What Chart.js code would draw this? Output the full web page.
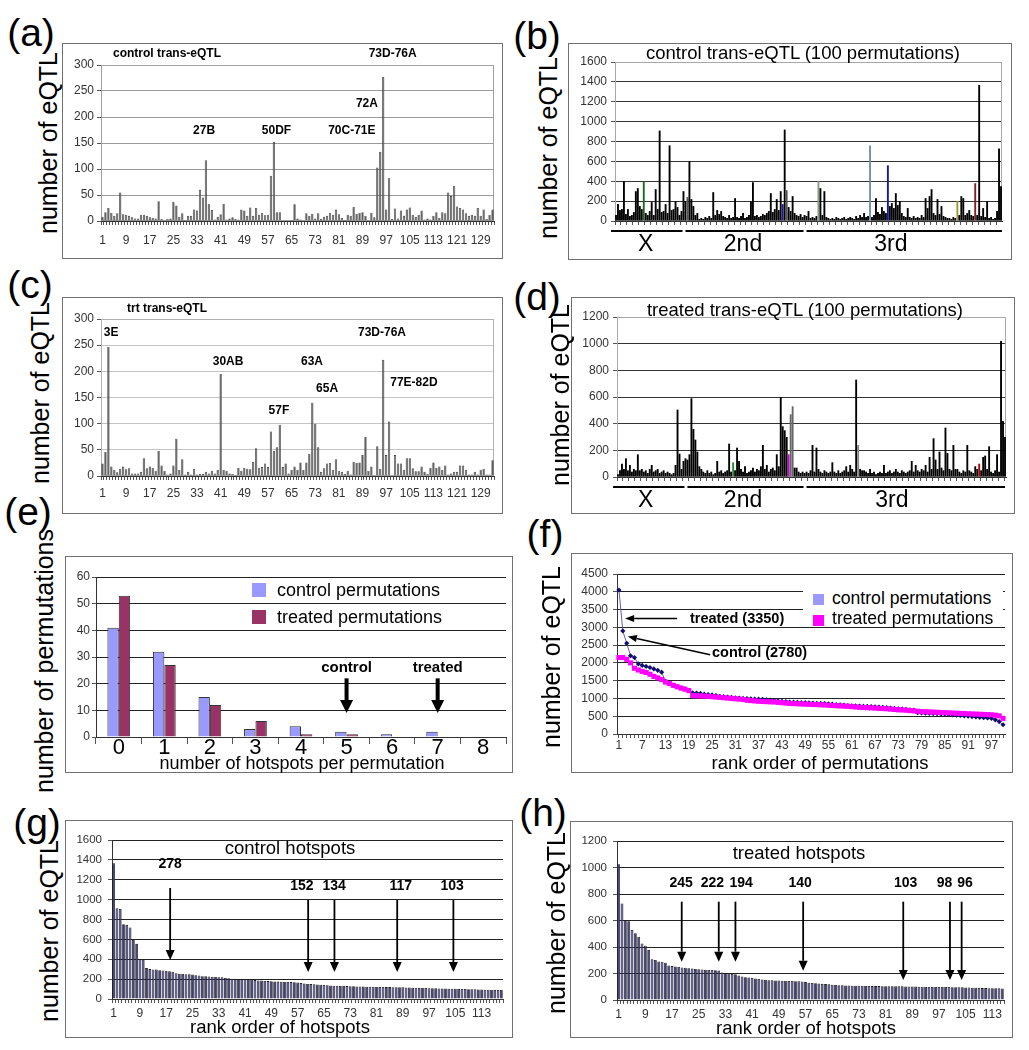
<!DOCTYPE html>
<html>
<head>
<meta charset="utf-8">
<script src="https://cdn.jsdelivr.net/npm/chart.js@4.4.1/dist/chart.umd.min.js"></script>
<style>
  body { margin: 0; background: #fff; }
  #page { position: relative; width: 1029px; height: 1050px; overflow: hidden; font-family: 'Liberation Sans', Arial, sans-serif; }
  .box { position: absolute; border: 1.5px solid #707070; box-sizing: border-box; }
  canvas { position: absolute; }
  .t { position: absolute; white-space: nowrap; transform: translate(-50%, -50%); color: #000; line-height: 1; }
  .r { transform: translate(-50%, -50%) rotate(-90deg); }
  .sw { position: absolute; }
</style>
</head>
<body>
<div id="page"></div>
<script>
// ---------- data ----------

// (a) control trans-eQTL, 133 cytological positions
const aCounts = [
  8, 17, 25, 16, 10, 15, 55, 13, 12, 10,
  7, 5, 5, 12, 12, 10, 7, 6, 5, 38,
  4, 1, 4, 5, 37, 30, 8, 15, 2, 10,
  10, 22, 20, 60, 45, 117, 32, 21, 3, 8,
  13, 33, 3, 5, 7, 4, 3, 22, 20, 10,
  26, 10, 25, 12, 16, 11, 12, 87, 152, 17,
  17, 0, 0, 1, 2, 32, 5, 3, 0, 15,
  10, 14, 5, 15, 4, 8, 10, 16, 12, 22,
  13, 6, 2, 12, 10, 27, 14, 16, 17, 10,
  0, 16, 7, 103, 133, 277, 22, 82, 4, 24,
  5, 20, 10, 22, 26, 12, 8, 12, 20, 3,
  5, 3, 10, 17, 6, 17, 15, 55, 48, 68,
  28, 25, 22, 15, 10, 12, 10, 25, 10, 22,
  4, 12, 22
];
const aTags = ['27B', '50DF', '70C-71E', '72A', '73D-76A'];
const aTagAt = [34.4, 58.9, 84.4, 89.5, 98.2];
const aTagLevel = [173, 173, 173, 225, 321];

// (c) treated trans-eQTL
const cCounts = [
  24, 46, 247, 18, 12, 7, 14, 18, 13, 15,
  5, 5, 5, 8, 34, 15, 18, 16, 10, 48,
  20, 10, 3, 5, 20, 71, 12, 32, 3, 8,
  3, 14, 3, 4, 4, 8, 5, 10, 5, 12,
  195, 12, 10, 5, 4, 2, 16, 10, 16, 14,
  13, 27, 53, 16, 17, 24, 17, 85, 48, 55,
  98, 17, 24, 5, 12, 18, 12, 26, 12, 26,
  42, 140, 100, 55, 8, 15, 24, 25, 12, 32,
  10, 8, 4, 10, 3, 27, 25, 26, 40, 75,
  10, 18, 0, 57, 14, 222, 40, 104, 0, 40,
  24, 24, 12, 34, 34, 15, 9, 9, 18, 8,
  4, 16, 26, 16, 18, 12, 20, 3, 5, 8,
  8, 20, 20, 12, 3, 3, 8, 3, 12, 14,
  3, 3, 30
];
const cTags = ['3E', '30AB', '63A', '65A', '57F', '73D-76A', '77E-82D'];
const cTagAt = [2.9, 42.5, 70.9, 76.0, 59.7, 94.6, 105.4];
const cTagLevel = [273, 218, 218, 167, 124, 273, 179];

// (b) control, 100 permutations
const bCounts = [
  60, 170, 110, 120, 400, 70, 120, 50, 60, 90,
  300, 330, 150, 120, 400, 80, 60, 100, 190, 60,
  320, 120, 910, 90, 100, 170, 80, 760, 110, 120,
  200, 140, 60, 100, 300, 200, 240, 600, 220, 150,
  60, 80, 20, 30, 20, 40, 30, 50, 30, 290,
  60, 110, 70, 100, 50, 40, 30, 60, 30, 40,
  230, 40, 30, 50, 80, 30, 40, 60, 200, 390,
  50, 60, 40, 50, 70, 60, 80, 100, 280, 90,
  120, 220, 110, 300, 170, 920, 310, 140, 100, 250,
  80, 60, 50, 70, 40, 60, 50, 100, 30, 40,
  30, 50, 400, 330, 60, 300, 40, 30, 20, 30,
  20, 40, 30, 20, 30, 40, 20, 30, 40, 30,
  20, 50, 30, 60, 40, 80, 40, 50, 760, 40,
  60, 230, 90, 70, 140, 100, 80, 560, 150, 180,
  130, 280, 160, 200, 80, 50, 40, 130, 40, 30,
  50, 30, 40, 30, 60, 40, 230, 130, 250, 320,
  80, 60, 220, 70, 150, 50, 40, 30, 30, 20,
  40, 30, 200, 60, 250, 230, 60, 80, 110, 60,
  50, 380, 60, 1370, 50, 130, 40, 200, 30, 40,
  20, 30, 100, 730, 350
];
// (d) treated, 100 permutations
const dCounts = [
  20, 50, 100, 60, 140, 50, 90, 40, 60, 50,
  170, 50, 60, 40, 50, 30, 60, 90, 40, 50,
  60, 30, 40, 50, 30, 40, 30, 20, 30, 90,
  505, 175, 60, 120, 140, 130, 170, 590, 360, 280,
  190, 80, 60, 40, 30, 50, 30, 40, 20, 30,
  120, 40, 50, 30, 40, 50, 250, 40, 110, 50,
  220, 120, 60, 40, 80, 30, 40, 50, 70, 40,
  60, 50, 80, 240, 60, 90, 40, 60, 70, 50,
  170, 80, 600, 380, 350, 300, 170, 470, 530, 70,
  70, 40, 30, 40, 30, 40, 30, 50, 240, 40,
  220, 60, 40, 30, 50, 40, 30, 40, 110, 40,
  30, 50, 30, 40, 50, 80, 40, 90, 60, 40,
  730, 240, 60, 50, 50, 40, 30, 60, 30, 40,
  20, 30, 40, 30, 90, 30, 40, 50, 30, 40,
  60, 40, 30, 50, 40, 30, 40, 50, 120, 40,
  90, 50, 40, 60, 50, 90, 40, 150, 60, 290,
  130, 60, 190, 70, 50, 370, 180, 60, 50, 240,
  60, 60, 40, 30, 50, 40, 240, 50, 40, 30,
  80, 60, 100, 50, 150, 160, 60, 230, 40, 30,
  50, 170, 40, 1020, 420, 300
];
const chromNames = ['X', '2nd', '3rd'];
const bChromFrom = [-2.5, 35, 96];
const bChromTo = [33.5, 94.5, 194.5];
const bChromMid = [15, 64, 138.5];
const dChromFrom = [-2.5, 35, 95];
const dChromTo = [33.5, 93.5, 195];
const dChromMid = [14, 63, 138];

// (e) hotspots per permutation
const eCategories = ['0', '1', '2', '3', '4', '5', '6', '7', '8'];
const eControl = [41, 32, 15, 3, 4, 2, 1, 2, 0];
const eTreated = [53, 27, 12, 6, 1, 1, 0, 0, 0];

// (f) eQTL per permutation, rank ordered
const fControl = [
  4050, 2900, 2550, 2200, 2150, 1970, 1930, 1900, 1870, 1830,
  1790, 1740, 1480, 1430, 1370, 1330, 1300, 1270, 1230, 1160,
  1150, 1140, 1120, 1110, 1100, 1080, 1060, 1050, 1040, 1030,
  1020, 1010, 1000, 995, 990, 985, 980, 975, 960, 950,
  940, 930, 920, 910, 900, 895, 890, 885, 880, 875,
  870, 865, 860, 855, 850, 840, 830, 820, 810, 800,
  795, 790, 785, 780, 775, 770, 765, 760, 750, 740,
  730, 720, 710, 700, 690, 680, 670, 600, 590, 585,
  580, 575, 570, 560, 555, 550, 540, 530, 520, 510,
  500, 490, 480, 470, 460, 450, 440, 400, 350, 260
];
const fTreated = [
  2150, 2150, 2100, 2000, 1850, 1800, 1760, 1730, 1680, 1620,
  1580, 1530, 1460, 1420, 1370, 1330, 1290, 1260, 1220, 1080,
  1075, 1070, 1065, 1060, 1050, 1040, 1030, 1020, 1010, 1000,
  990, 980, 970, 950, 940, 930, 920, 915, 910, 905,
  900, 890, 880, 870, 860, 855, 850, 845, 840, 835,
  830, 825, 820, 815, 810, 800, 795, 790, 785, 780,
  770, 760, 750, 745, 740, 735, 730, 720, 715, 710,
  700, 690, 680, 675, 670, 660, 650, 640, 630, 625,
  620, 615, 610, 605, 600, 595, 590, 585, 580, 575,
  570, 565, 560, 555, 550, 545, 540, 530, 510, 440
];

// (g) control hotspots, rank ordered
const gCounts = [
  1365, 913, 906, 752, 746, 720, 595, 555, 401, 395,
  311, 301, 298, 296, 290, 288, 284, 278, 275, 260,
  255, 252, 250, 248, 246, 240, 236, 230, 228, 226,
  225, 222, 220, 218, 212, 208, 205, 203, 201, 200,
  199, 198, 196, 190, 186, 185, 182, 180, 178, 176,
  175, 174, 172, 171, 170, 168, 165, 160, 156, 152,
  150, 148, 146, 144, 142, 138, 136, 134, 133, 132,
  131, 130, 129, 128, 127, 126, 125, 124, 124, 123,
  122, 121, 121, 120, 120, 119, 118, 117, 117, 116,
  115, 114, 113, 112, 111, 110, 109, 108, 107, 106,
  105, 105, 104, 104, 103, 102, 101, 100, 99, 98,
  97, 96, 95, 94, 94, 93, 92, 91, 90
];
const gNotes = ['278', '152', '134', '117', '103'];
const gNoteAt = [17.2, 59.2, 67.2, 86.3, 103.4];
const gLabelAt = [17.2, 57.3, 67.1, 87.4, 103];

// (h) treated hotspots, rank ordered
const hCounts = [
  1025, 729, 603, 595, 528, 503, 477, 427, 410, 377,
  307, 302, 291, 289, 281, 260, 256, 252, 249, 245,
  243, 240, 237, 234, 232, 230, 228, 227, 226, 224,
  222, 208, 203, 200, 196, 194, 185, 178, 172, 170,
  167, 163, 158, 155, 152, 150, 149, 148, 147, 146,
  145, 144, 143, 142, 141, 140, 135, 130, 128, 126,
  124, 122, 120, 118, 116, 114, 112, 111, 110, 109,
  108, 108, 107, 107, 106, 106, 105, 105, 105, 104,
  104, 104, 104, 103, 103, 103, 102, 102, 101, 101,
  100, 100, 99, 99, 99, 98, 98, 98, 98, 98,
  97, 97, 96, 96, 95, 94, 93, 92, 91, 90,
  90, 89, 89, 88, 88, 87
];
const hNotes = ['245', '222', '194', '140', '103', '98', '96'];
const hNoteAt = [18.9, 30, 35, 55.3, 85.3, 99.3, 102.8];
const hLabelAt = [18.7, 28.1, 36.7, 54.4, 86, 97.7, 103.8];

// ---------- drawing ----------
const FONT = "'Liberation Sans', Arial, sans-serif";
Chart.defaults.font.family = FONT;
Chart.defaults.color = '#333';

const page = document.getElementById('page');
const specs = new Map();

function drawArrow(ctx, x1, y1, x2, y2, w, hl, hw) {
  const ang = Math.atan2(y2 - y1, x2 - x1);
  const bx = x2 - hl * Math.cos(ang), by = y2 - hl * Math.sin(ang);
  ctx.strokeStyle = '#000';
  ctx.lineWidth = w;
  ctx.beginPath(); ctx.moveTo(x1, y1); ctx.lineTo(bx, by); ctx.stroke();
  ctx.fillStyle = '#000';
  ctx.beginPath();
  ctx.moveTo(x2, y2);
  ctx.lineTo(bx + hw / 2 * Math.sin(ang), by - hw / 2 * Math.cos(ang));
  ctx.lineTo(bx - hw / 2 * Math.sin(ang), by + hw / 2 * Math.cos(ang));
  ctx.closePath(); ctx.fill();
}

// extra marks: plot frame, chromosome spans, arrows, region tags
Chart.register({
  id: 'marks',
  beforeDatasetsDraw(chart) {
    const s = specs.get(chart.canvas);
    if (!s || !s.frame) return;
    const a = chart.chartArea, ctx = chart.ctx;
    ctx.save();
    ctx.strokeStyle = s.frame; ctx.lineWidth = 1;
    ctx.strokeRect(a.left + 0.5, a.top + 0.5, a.right - a.left - 1, a.bottom - a.top - 1);
    ctx.restore();
  },
  afterDatasetsDraw(chart) {
    const s = specs.get(chart.canvas);
    if (!s) return;
    const { ctx } = chart;
    const x = chart.scales.x, y = chart.scales.y;
    ctx.save();
    (s.spans || []).forEach(sp => {
      const yy = chart.chartArea.bottom + sp.dy;
      ctx.strokeStyle = '#000'; ctx.lineWidth = 2;
      ctx.beginPath(); ctx.moveTo(x.getPixelForValue(sp.from), yy); ctx.lineTo(x.getPixelForValue(sp.to), yy); ctx.stroke();
      ctx.fillStyle = '#000'; ctx.font = '23px ' + FONT; ctx.textAlign = 'center'; ctx.textBaseline = 'middle';
      ctx.fillText(sp.text, x.getPixelForValue(sp.mid), yy + sp.ty);
    });
    (s.arrows || []).forEach(a => drawArrow(ctx, x.getPixelForValue(a.x1), y.getPixelForValue(a.y1),
      x.getPixelForValue(a.x2), y.getPixelForValue(a.y2), a.w, a.hl, a.hw));
    (s.texts || []).forEach(t => {
      ctx.font = t.font; ctx.fillStyle = '#000';
      ctx.textAlign = t.align || 'center'; ctx.textBaseline = 'middle';
      ctx.fillText(t.text, x.getPixelForValue(t.x), y.getPixelForValue(t.y));
    });
    ctx.restore();
  }
});

function panel(box, plot, config, spec) {
  const frame = document.createElement('div');
  frame.className = 'box';
  Object.assign(frame.style, { left: box.x + 'px', top: box.y + 'px', width: box.w + 'px', height: box.h + 'px' });
  page.appendChild(frame);
  const cv = document.createElement('canvas');
  cv.width = box.w; cv.height = box.h;
  Object.assign(cv.style, { left: box.x + 'px', top: box.y + 'px', width: box.w + 'px', height: box.h + 'px' });
  page.appendChild(cv);
  specs.set(cv, spec || {});
  const o = config.options;
  o.responsive = false;
  o.animation = false;
  o.events = [];
  o.layout = { autoPadding: false, padding: { left: 0, top: plot.t - box.y, right: box.x + box.w - plot.r, bottom: 0 } };
  o.plugins = { legend: { display: false }, tooltip: { enabled: false } };
  o.scales.y.afterFit = sc => { sc.width = plot.l - box.x; };
  o.scales.x.afterFit = sc => { sc.height = box.y + box.h - plot.b; };
  return new Chart(cv.getContext('2d'), config);
}

function yAxis(max, step, gridColor, pad, size) {
  return {
    min: 0, max: max,
    ticks: { stepSize: step, font: { size: size || 12 }, color: '#333', padding: pad, callback: v => String(v) },
    grid: { color: gridColor, lineWidth: 1, tickLength: 4, tickColor: '#555' },
    border: { display: true, color: '#333', width: 1 }
  };
}
function xAxis(every, pad, opts) {
  opts = opts || {};
  return {
    ticks: {
      display: every > 0, autoSkip: false, maxRotation: 0, minRotation: 0,
      font: { size: opts.size || 12 }, color: opts.color || '#333', padding: pad,
      callback: function (v, i) { return every > 0 && i % every === 0 ? this.getLabelForValue(v) : ''; }
    },
    grid: { drawOnChartArea: false, tickLength: opts.tl || 4, color: opts.tickColor || '#555' },
    border: { display: true, color: '#333', width: 1 }
  };
}
const idx = arr => arr.map((_, i) => String(i + 1));
function tags(names, at, level, font) {
  return names.map((n, i) => ({ text: n, x: at[i], y: level[i], font: font }));
}
function addText(txt, cx, cy, size, extra) {
  extra = extra || {};
  const d = document.createElement('div');
  d.className = 't' + (extra.rot ? ' r' : '');
  d.textContent = txt;
  d.style.left = cx + 'px'; d.style.top = cy + 'px';
  d.style.fontSize = size + 'px';
  if (extra.bold) d.style.fontWeight = 'bold';
  if (extra.left) d.style.transform = 'translate(0, -50%)';
  page.appendChild(d);
}
function addBox(x, y, w, h, color) {
  const d = document.createElement('div');
  d.className = 'sw';
  Object.assign(d.style, { left: x + 'px', top: y + 'px', width: w + 'px', height: h + 'px', background: color });
  page.appendChild(d);
}

// (a)
panel({ x: 62, y: 43, w: 441, h: 216 }, { l: 101, t: 65, r: 494, b: 221 }, {
  type: 'bar',
  data: { labels: idx(aCounts), datasets: [{ data: aCounts, backgroundColor: '#606060', borderColor: '#2a2a2a', borderWidth: 0.6, barPercentage: 0.78, categoryPercentage: 1 }] },
  options: { scales: { x: xAxis(8, 8), y: yAxis(300, 50, '#9a9a9a', 3) } }
}, { frame: '#a0a0a0', texts: tags(aTags, aTagAt, aTagLevel, 'bold 12px ' + FONT) });

// (c)
panel({ x: 62, y: 297, w: 441, h: 217 }, { l: 101, t: 319, r: 494, b: 476 }, {
  type: 'bar',
  data: { labels: idx(cCounts), datasets: [{ data: cCounts, backgroundColor: '#606060', borderColor: '#2a2a2a', borderWidth: 0.6, barPercentage: 0.78, categoryPercentage: 1 }] },
  options: { scales: { x: xAxis(8, 6), y: yAxis(300, 50, '#c4c4c4', 3) } }
}, { frame: '#b0b0b0', texts: tags(cTags, cTagAt, cTagLevel, 'bold 12px ' + FONT) });

// (b) / (d) per-bar colours of the few coloured loci
const bColorAt = { 14: '#1d6b1d', 84: '#1a1a9a', 102: '#8a9a8a', 128: '#6f8fae', 137: '#1414b4', 172: '#9a9a30', 181: '#802020', 36: '#555', 86: '#555' };
const dColorAt = { 58: '#2e8b2e', 86: '#cc00cc', 121: '#888', 182: '#b00000', 87: '#666', 88: '#666' };
const denseTicks = c => (c.index % 3 === 0 ? '#555' : 'rgba(0,0,0,0)');

function permPanel(box, plot, counts, max, colors, from, to, mid) {
  const xa = xAxis(0, 0);
  xa.grid.color = denseTicks;
  panel(box, plot, {
    type: 'bar',
    data: { labels: idx(counts), datasets: [{ data: counts, backgroundColor: c => colors[c.dataIndex] || '#000', barPercentage: 0.95, categoryPercentage: 1 }] },
    options: { scales: { x: xa, y: yAxis(max, 200, '#333', 4) } }
  }, {
    frame: '#a8a8a8',
    spans: chromNames.map((n, i) => ({ text: n, from: from[i], to: to[i], mid: mid[i], dy: 10, ty: 14 }))
  });
}
permPanel({ x: 568, y: 43, w: 444, h: 217 }, { l: 615, t: 62, r: 1002, b: 221 }, bCounts, 1600, bColorAt, bChromFrom, bChromTo, bChromMid);
permPanel({ x: 571, y: 297, w: 444, h: 217 }, { l: 617, t: 317, r: 1006, b: 477 }, dCounts, 1200, dColorAt, dChromFrom, dChromTo, dChromMid);

// (e)
panel({ x: 65, y: 556, w: 448, h: 217 }, { l: 96, t: 577, r: 506, b: 737 }, {
  type: 'bar',
  data: {
    labels: eCategories,
    datasets: [
      { label: 'control permutations', data: eControl, backgroundColor: '#9999ff', borderColor: '#333', borderWidth: 1, barPercentage: 1, categoryPercentage: 0.5 },
      { label: 'treated permutations', data: eTreated, backgroundColor: '#993366', borderColor: '#333', borderWidth: 1, barPercentage: 1, categoryPercentage: 0.5 }
    ]
  },
  options: { scales: { x: xAxis(1, -9, { size: 22, color: '#000', tl: 7 }), y: yAxis(60, 10, '#222', 2) } }
}, {
  arrows: [5, 7].map(c => ({ x1: c, y1: 22, x2: c, y2: 9, w: 4, hl: 13, hw: 13 })),
  texts: [{ text: 'control', x: 5, y: 25.9, font: 'bold 15px ' + FONT }, { text: 'treated', x: 7, y: 25.9, font: 'bold 15px ' + FONT }]
});

// (f)
panel({ x: 571, y: 553, w: 442, h: 220 }, { l: 617, t: 574, r: 1005, b: 734 }, {
  type: 'line',
  data: {
    labels: idx(fControl),
    datasets: [
      { label: 'control permutations', data: fControl, borderColor: '#5c5cc8', borderWidth: 1, pointStyle: 'rectRot', pointRadius: 2.6, pointBackgroundColor: '#10106e', pointBorderWidth: 0, order: 2 },
      { label: 'treated permutations', data: fTreated, borderColor: '#ff00ff', borderWidth: 1, pointStyle: 'rect', pointRadius: 3.6, pointBackgroundColor: '#ff00ff', pointBorderWidth: 0, order: 1 }
    ]
  },
  options: { scales: { x: Object.assign(xAxis(6, 0), { offset: true }), y: yAxis(4500, 500, '#222', 5) } }
}, {
  arrows: [
    { x1: 15, y1: 3246, x2: 1.6, y2: 3246, w: 1.5, hl: 9, hw: 7 },
    { x1: 23.5, y1: 2226, x2: 2.3, y2: 2741, w: 1.5, hl: 9, hw: 7 }
  ],
  texts: [
    { text: 'treated (3350)', x: 18.3, y: 3246, font: 'bold 14.5px ' + FONT, align: 'left' },
    { text: 'control (2780)', x: 24, y: 2273, font: 'bold 14.5px ' + FONT, align: 'left' }
  ]
});

// (g) / (h)
function hotPanel(box, plot, counts, max, notes, at, labelAt, top, tip, labelY) {
  panel(box, plot, {
    type: 'bar',
    data: { labels: idx(counts), datasets: [{ data: counts, backgroundColor: '#3e3e80', borderColor: '#1c1c1c', borderWidth: 0.8, barPercentage: 0.85, categoryPercentage: 1 }] },
    options: { scales: { x: xAxis(8, 3), y: yAxis(max, 200, '#222', 6, 11.5) } }
  }, {
    arrows: notes.map((n, i) => ({ x1: at[i], y1: top[i], x2: at[i], y2: tip[i], w: 1.8, hl: 10, hw: 9 })),
    texts: notes.map((n, i) => ({ text: n, x: labelAt[i], y: labelY[i], font: 'bold 14px ' + FONT }))
  });
}
hotPanel({ x: 65, y: 820, w: 448, h: 218 }, { l: 112, t: 840, r: 503, b: 999 }, gCounts, 1600,
  gNotes, gNoteAt, gLabelAt, [1117, 996, 996, 996, 996], [392, 272, 272, 272, 272], [1358, 1137, 1137, 1137, 1137]);
hotPanel({ x: 570, y: 821, w: 443, h: 217 }, { l: 617, t: 841, r: 1004, b: 1000 }, hCounts, 1200,
  hNotes, hNoteAt, hLabelAt, [742, 742, 742, 742, 742, 742, 742], [289, 289, 289, 221, 151, 151, 151], [885, 885, 885, 885, 885, 885, 885]);

// ---------- text around the charts ----------
[['(a)', 31, 32], ['(b)', 537, 35], ['(c)', 30, 284], ['(d)', 537, 296],
 ['(e)', 28, 511], ['(f)', 545, 533], ['(g)', 37, 822], ['(h)', 543, 812]]
  .forEach(p => addText(p[0], p[1], p[2], 39));

[[48, 143], [548, 148], [40, 393], [560, 395], [551, 657], [49, 931], [556, 923]]
  .forEach(p => addText('number of eQTL', p[0], p[1], 25, { rot: true }));
addText('number of permutations', 44, 661, 25, { rot: true });

addText('control trans-eQTL', 167, 53, 12, { bold: true });
addText('trt trans-eQTL', 167, 308, 12, { bold: true });
addText('control trans-eQTL (100 permutations)', 803, 53, 18.5);
addText('treated trans-eQTL (100 permutations)', 805, 310, 18.5);
addText('control hotspots', 290, 848, 18.5);
addText('treated hotspots', 799, 853, 18.5);

addText('number of hotspots per permutation', 302, 763, 18);
addText('rank order of permutations', 820, 763, 18.5);
addText('rank order of hotspots', 280, 1027, 18.5);
addText('rank order of hotspots', 806, 1028, 18.5);

// legends
addBox(252, 583, 14, 14, '#9999ff');
addBox(252, 610, 14, 14, '#993366');
addText('control permutations', 277, 590, 18, { left: true });
addText('treated permutations', 277, 617, 18, { left: true });

addBox(803, 587, 200, 38, '#fff');
addBox(813, 594, 11, 11, '#9999ff');
addBox(813, 615, 11, 11, '#ff00ff');
addText('control permutations', 832, 599, 17.6, { left: true });
addText('treated permutations', 832, 619, 17.6, { left: true });
</script>
</body>
</html>
